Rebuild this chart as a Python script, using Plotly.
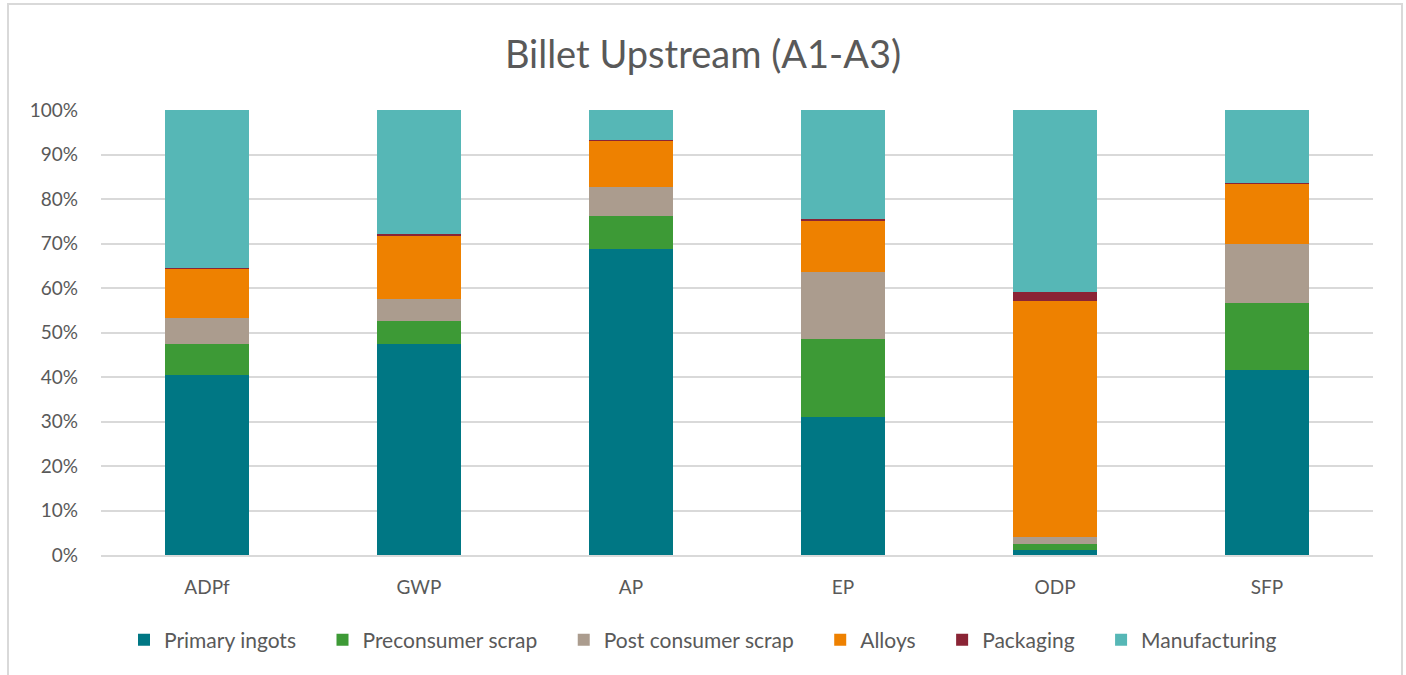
import plotly.graph_objects as go

categories = ["ADPf", "GWP", "AP", "EP", "ODP", "SFP"]
primary_ingots = [40.4, 47.4, 68.8, 31.0, 1.1, 41.6]
preconsumer_scrap = [7.0, 5.2, 7.4, 17.5, 1.4, 15.0]
post_consumer_scrap = [5.9, 4.9, 6.5, 15.2, 1.5, 13.4]
alloys = [11.0, 14.4, 10.4, 11.4, 53.1, 13.4]
packaging = [0.3, 0.2, 0.2, 0.4, 2.0, 0.3]
manufacturing = [35.4, 27.9, 6.7, 24.5, 40.9, 16.3]

series = [
    ("Primary ingots", primary_ingots, "#007784"),
    ("Preconsumer scrap", preconsumer_scrap, "#3d9a36"),
    ("Post consumer scrap", post_consumer_scrap, "#ab9c8e"),
    ("Alloys", alloys, "#ee8100"),
    ("Packaging", packaging, "#8a2435"),
    ("Manufacturing", manufacturing, "#56b7b6"),
]

FONT = "Lato"
PAD = "\u00a0" * 4
fig = go.Figure()
for i, (name, vals, color) in enumerate(series):
    label = name + (PAD if i < len(series) - 1 else "")
    fig.add_trace(go.Bar(
        x=categories, y=[v / 100 for v in vals], name=label,
        marker=dict(color=color, line=dict(width=0)),
    ))

W, H = 1406, 675
L, R, T, B = 101, 33, 110, 120
pw, ph = W - L - R, H - T - B

def px_x(p):
    return (p - L) / pw

def px_y(p):
    return (H - B - p) / ph

fig.update_layout(
    width=W, height=H,
    barmode="stack",
    bargap=0.6,
    margin=dict(l=L, r=R, t=T, b=B),
    paper_bgcolor="white", plot_bgcolor="white",
    font=dict(family=FONT, color="#595959", size=19),
    title=dict(text="Billet Upstream (A1-A3)", x=0.5, xref="container", xanchor="center",
               y=1 - 55 / H, yref="container", yanchor="middle",
               font=dict(family=FONT, size=38, color="#595959")),
    showlegend=True,
    legend=dict(orientation="h", x=0.5, xref="container", xanchor="center",
                y=1 - 640 / H, yref="container", yanchor="middle",
                font=dict(family=FONT, size=21, color="#595959"),
                traceorder="normal", itemwidth=30),
    xaxis=dict(showgrid=False, showline=True, linecolor="#d9d9d9", linewidth=1.5,
               ticks="", ticklabelstandoff=14, tickfont=dict(size=19, color="#595959")),
    yaxis=dict(range=[0, 1], tickvals=[i / 10 for i in range(11)], tickformat=".0%",
               showgrid=True, gridcolor="#d9d9d9", gridwidth=1.5, zeroline=False,
               ticks="", ticklabelstandoff=22, tickfont=dict(size=19, color="#595959")),
)

fig.add_shape(type="rect", xref="paper", yref="paper",
              x0=px_x(8), x1=px_x(1402), y0=px_y(700), y1=px_y(4),
              line=dict(color="#d9d9d9", width=2), fillcolor="rgba(0,0,0,0)", layer="below")

fig.write_html("out.html")
